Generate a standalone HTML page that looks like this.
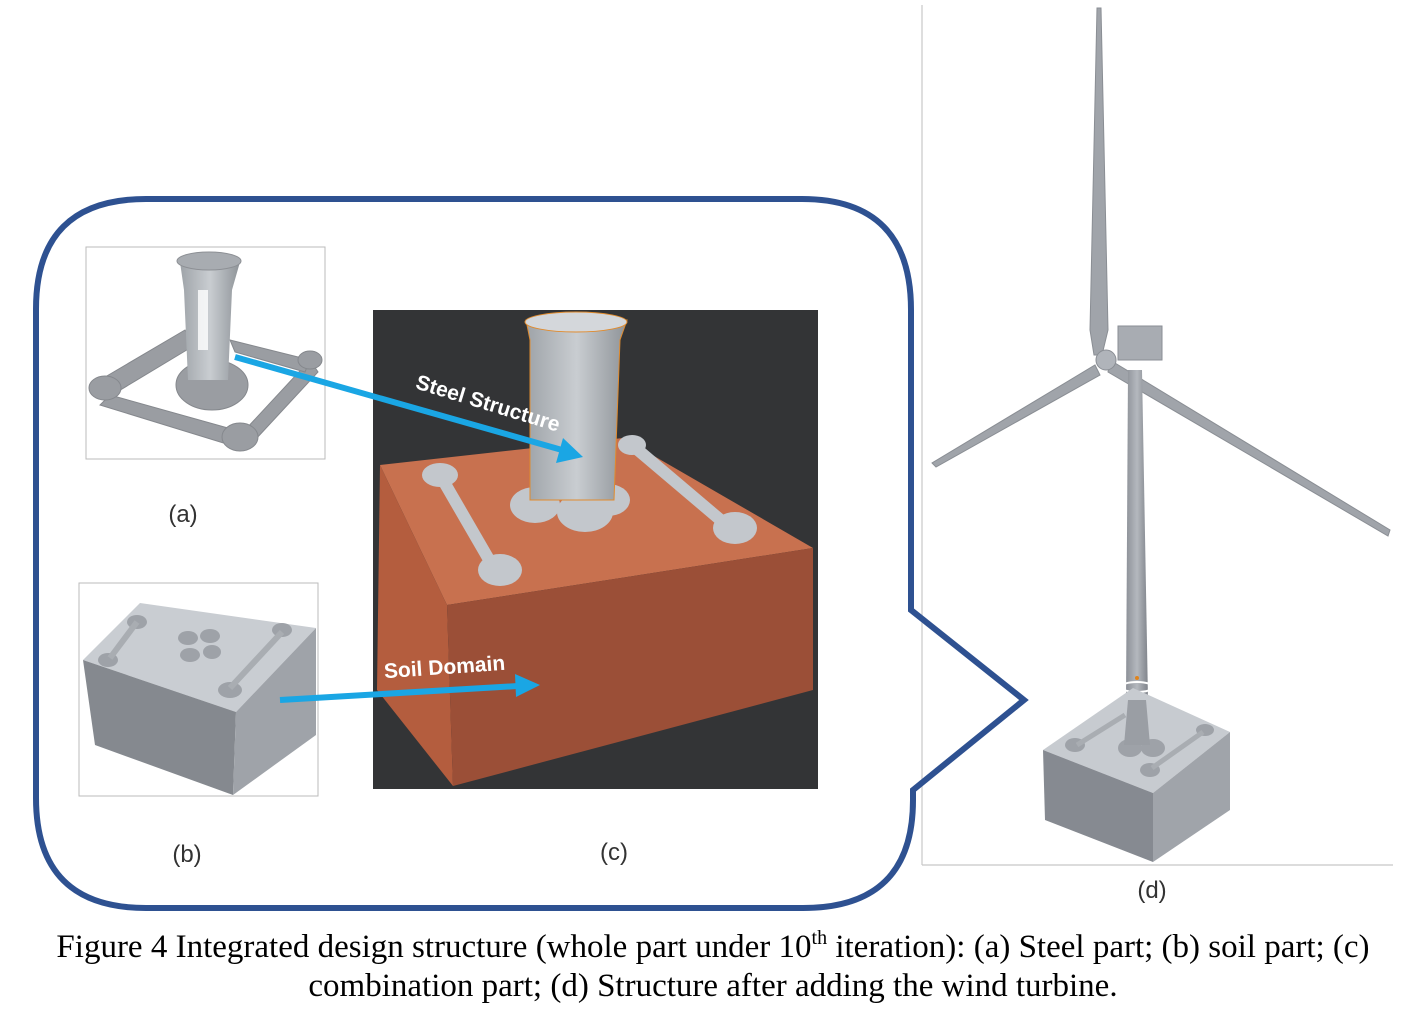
<!DOCTYPE html>
<html><head><meta charset="utf-8"><style>
body{margin:0;background:#fff;}
svg{display:block}
</style></head><body>
<svg width="1410" height="1009" viewBox="0 0 1410 1009" xmlns="http://www.w3.org/2000/svg">
<defs>
<linearGradient id="gcol" x1="0" x2="1"><stop offset="0" stop-color="#9ea3a8"/><stop offset="0.5" stop-color="#c9cdd1"/><stop offset="1" stop-color="#8e9398"/></linearGradient>
<linearGradient id="gtow" x1="0" x2="1"><stop offset="0" stop-color="#8d9198"/><stop offset="0.5" stop-color="#b4b8be"/><stop offset="1" stop-color="#80848b"/></linearGradient>
</defs>
<rect width="1410" height="1009" fill="#fff"/>
<line x1="922" y1="5" x2="922" y2="865" stroke="#c8c8c8" stroke-width="1.2"/>
<line x1="922" y1="865" x2="1393" y2="865" stroke="#c8c8c8" stroke-width="1.2"/>
<path d="M146,199 L802,199 Q911,199 911,310 L911,610 L1024,700 L913,790 L913,800 Q913,908 803,908 L146,908 Q36,908 36,798 L36,309 Q36,199 146,199 Z" fill="none" stroke="#2e5191" stroke-width="6"/>
<!-- (a) -->
<rect x="86" y="247" width="239" height="212" fill="#fff" stroke="#bbb" stroke-width="1"/>
<g fill="#9a9da2" stroke="#85888d" stroke-width="1">
<path d="M100,380 L185,330 L195,345 L112,395 Z"/>
<path d="M110,395 L235,430 L230,445 L100,405 Z"/>
<path d="M245,430 L310,360 L318,372 L255,440 Z"/>
<path d="M230,340 L310,360 L305,372 L235,352 Z"/>
<ellipse cx="105" cy="388" rx="16" ry="12"/>
<ellipse cx="240" cy="437" rx="18" ry="14"/>
<ellipse cx="310" cy="360" rx="12" ry="9"/>
<ellipse cx="212" cy="385" rx="36" ry="25"/>
</g>
<path d="M180,262 L240,262 L232,290 L228,380 L188,380 L184,290 Z" fill="url(#gcol)"/>
<rect x="198" y="290" width="10" height="60" fill="#fff" opacity="0.8"/>
<ellipse cx="209" cy="261" rx="32" ry="9" fill="#a8acb1" stroke="#8d9095"/>
<text x="183" y="522" font-family="Liberation Sans, sans-serif" font-size="24" fill="#333" text-anchor="middle">(a)</text>
<!-- (b) -->
<rect x="79" y="583" width="239" height="213" fill="#fff" stroke="#bbb" stroke-width="1"/>
<path d="M83,660 L140,603 L316,628 L236,712 Z" fill="#c9cdd2"/>
<path d="M83,660 L236,712 L233,795 L95,745 Z" fill="#85898f"/>
<path d="M236,712 L316,628 L316,735 L233,795 Z" fill="#9fa3a9"/>
<g fill="#9ea2a8"><ellipse cx="188" cy="638" rx="10" ry="7"/><ellipse cx="210" cy="636" rx="10" ry="7"/><ellipse cx="190" cy="655" rx="10" ry="7"/><ellipse cx="212" cy="652" rx="9" ry="7"/>
<ellipse cx="137" cy="622" rx="10" ry="7"/><ellipse cx="230" cy="690" rx="12" ry="8"/><ellipse cx="282" cy="630" rx="10" ry="7"/><ellipse cx="108" cy="660" rx="10" ry="7"/></g>
<line x1="110" y1="658" x2="137" y2="622" stroke="#a9adb2" stroke-width="6"/>
<line x1="230" y1="688" x2="282" y2="632" stroke="#a9adb2" stroke-width="6"/>
<text x="187" y="862" font-family="Liberation Sans, sans-serif" font-size="24" fill="#333" text-anchor="middle">(b)</text>
<!-- (c) -->
<rect x="373" y="310" width="445" height="479" fill="#333436"/>
<path d="M380,465 L623,438 L813,548 L447,605 Z" fill="#c8714f"/>
<path d="M380,465 L447,605 L453,786 L377,690 Z" fill="#b45d3e"/>
<path d="M447,605 L813,548 L813,690 L453,786 Z" fill="#9b4f37"/>
<g fill="#c3c7cc">
<line x1="440" y1="475" x2="495" y2="570" stroke="#c3c7cc" stroke-width="12"/>
<line x1="632" y1="445" x2="730" y2="528" stroke="#c3c7cc" stroke-width="12"/>
<ellipse cx="440" cy="475" rx="18" ry="12"/><ellipse cx="500" cy="570" rx="22" ry="16"/>
<ellipse cx="632" cy="445" rx="14" ry="10"/><ellipse cx="735" cy="528" rx="22" ry="16"/>
<ellipse cx="535" cy="505" rx="25" ry="18"/><ellipse cx="585" cy="512" rx="28" ry="20"/><ellipse cx="608" cy="500" rx="22" ry="16"/>
</g>
<path d="M526,320 L627,320 L620,340 L614,500 L530,500 L530,340 Z" fill="url(#gcol)" stroke="#e08b2e" stroke-width="1"/>
<ellipse cx="576" cy="322" rx="51" ry="10" fill="#d4d7db" stroke="#e08b2e"/>
<text x="486" y="410" transform="rotate(17 486 410)" font-family="Liberation Sans, sans-serif" font-size="21" font-weight="bold" fill="#fff" text-anchor="middle">Steel Structure</text>
<text x="445" y="674" transform="rotate(-4 445 674)" font-family="Liberation Sans, sans-serif" font-size="21" font-weight="bold" fill="#fff" text-anchor="middle">Soil Domain</text>
<text x="614" y="860" font-family="Liberation Sans, sans-serif" font-size="24" fill="#333" text-anchor="middle">(c)</text>
<line x1="235" y1="357" x2="562" y2="450" stroke="#1aa6e4" stroke-width="6"/>
<path d="M583,457 L556,463 L563,438 Z" fill="#1aa6e4"/>
<line x1="280" y1="700" x2="518" y2="686" stroke="#1aa6e4" stroke-width="6"/>
<path d="M540,685 L516,697 L515,674 Z" fill="#1aa6e4"/>
<!-- (d) turbine -->
<path d="M1097,8 L1101,8 L1108,330 L1102,355 L1094,355 L1090,330 Z" fill="#a0a4aa" stroke="#8a8e94"/>
<path d="M1095,365 L1100,375 L936,467 L932,463 Z" fill="#a0a4aa" stroke="#8a8e94"/>
<path d="M1110,360 L1390,530 L1388,536 L1108,372 Z" fill="#a0a4aa" stroke="#8a8e94"/>
<path d="M1128,370 L1142,370 L1148,700 L1126,700 Z" fill="url(#gtow)"/>
<rect x="1118" y="326" width="44" height="34" fill="#a8acb2" stroke="#8a8e94"/>
<circle cx="1106" cy="360" r="10" fill="#b0b4ba" stroke="#8a8e94"/>
<ellipse cx="1137" cy="687" rx="16" ry="5" fill="none" stroke="#fff" stroke-width="2"/>
<circle cx="1137" cy="678" r="2" fill="#e0841e"/>
<path d="M1043,750 L1133,688 L1230,732 L1153,793 Z" fill="#c7cbd0"/>
<path d="M1043,750 L1153,793 L1153,862 L1045,820 Z" fill="#868a91"/>
<path d="M1153,793 L1230,732 L1230,810 L1153,862 Z" fill="#a0a4aa"/>
<g fill="#9ea2a8"><ellipse cx="1075" cy="745" rx="10" ry="7"/><ellipse cx="1150" cy="770" rx="10" ry="7"/><ellipse cx="1205" cy="730" rx="9" ry="6"/><ellipse cx="1130" cy="748" rx="12" ry="9"/><ellipse cx="1153" cy="748" rx="12" ry="9"/></g>
<line x1="1077" y1="745" x2="1125" y2="715" stroke="#a9adb2" stroke-width="5"/>
<line x1="1152" y1="768" x2="1203" y2="732" stroke="#a9adb2" stroke-width="5"/>
<path d="M1128,700 L1146,700 L1150,745 L1124,745 Z" fill="#9a9ea4"/>
<text x="1152" y="898" font-family="Liberation Sans, sans-serif" font-size="24" fill="#333" text-anchor="middle">(d)</text>
<!-- caption -->
<text x="713" y="957" font-family="Liberation Serif, serif" font-size="33" fill="#000" text-anchor="middle">Figure 4 Integrated design structure (whole part under 10<tspan font-size="20" dy="-13">th</tspan><tspan dy="13"> iteration): (a) Steel part; (b) soil part; (c)</tspan></text>
<text x="713" y="996" font-family="Liberation Serif, serif" font-size="33" fill="#000" text-anchor="middle">combination part; (d) Structure after adding the wind turbine.</text>
</svg>
</body></html>
